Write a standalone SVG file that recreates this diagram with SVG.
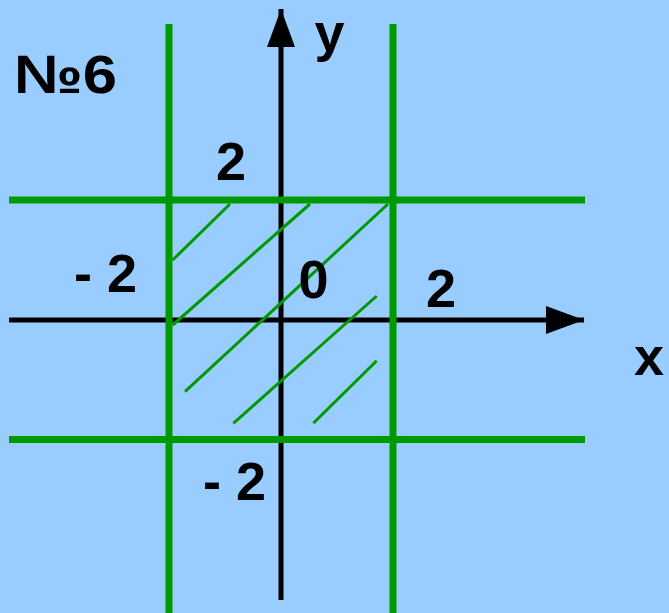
<svg xmlns="http://www.w3.org/2000/svg" width="669" height="613" viewBox="0 0 669 613">
<style>
.g{stroke:#009900;stroke-width:7;fill:none}
.h{stroke:#009900;stroke-width:3;fill:none}
.ax{stroke:#000;stroke-width:5;fill:none}
.t{font-family:"Liberation Sans",Arial,sans-serif;font-weight:bold;font-size:54px;fill:#000}
</style>
<defs>
<marker id="arr" markerUnits="userSpaceOnUse" markerWidth="40" markerHeight="30" refX="38" refY="14" orient="auto" viewBox="0 0 40 28">
<path d="M0,0 L38,14 L0,28 Z" fill="#000"/>
</marker>
</defs>
<rect width="669" height="613" fill="#99ccff"/>
<g id="connectors">
<line id="x-axis" class="ax" x1="9" y1="320" x2="584" y2="320" marker-end="url(#arr)"/>
<line id="y-axis" class="ax" x1="281" y1="600" x2="281" y2="9" marker-end="url(#arr)"/>
</g>
<g id="boundaries">
<line id="x-minus2" class="g" x1="169" y1="24" x2="169" y2="613"/>
<line id="x-plus2" class="g" x1="393" y1="24" x2="393" y2="613"/>
<line id="y-plus2" class="g" x1="9" y1="200" x2="585" y2="200"/>
<line id="y-minus2" class="g" x1="9" y1="439.5" x2="585" y2="439.5"/>
</g>
<g id="hatch">
<line class="h" x1="230" y1="204" x2="172.7" y2="260"/>
<line class="h" x1="310" y1="204" x2="172.7" y2="325"/>
<line class="h" x1="388" y1="204" x2="185" y2="391.7"/>
<line class="h" x1="376.7" y1="296" x2="233.3" y2="423.3"/>
<line class="h" x1="376.7" y1="360.7" x2="313.3" y2="423.3"/>
</g>
<g id="labels">
<text id="title" class="t" x="14" y="93" font-size="63" textLength="103" lengthAdjust="spacingAndGlyphs">№6</text>
<text id="label-y" class="t" x="329.5" y="51" text-anchor="middle">y</text>
<text id="label-x" class="t" x="649" y="375" text-anchor="middle">x</text>
<text id="label-top2" class="t" x="231" y="180" text-anchor="middle">2</text>
<text id="label-left-2" class="t" x="137" y="292" text-anchor="end">- 2</text>
<text id="label-0" class="t" x="313.5" y="298" text-anchor="middle">0</text>
<text id="label-right2" class="t" x="441" y="307" text-anchor="middle">2</text>
<text id="label-bottom-2" class="t" x="266" y="500" text-anchor="end">- 2</text>
</g>
</svg>
